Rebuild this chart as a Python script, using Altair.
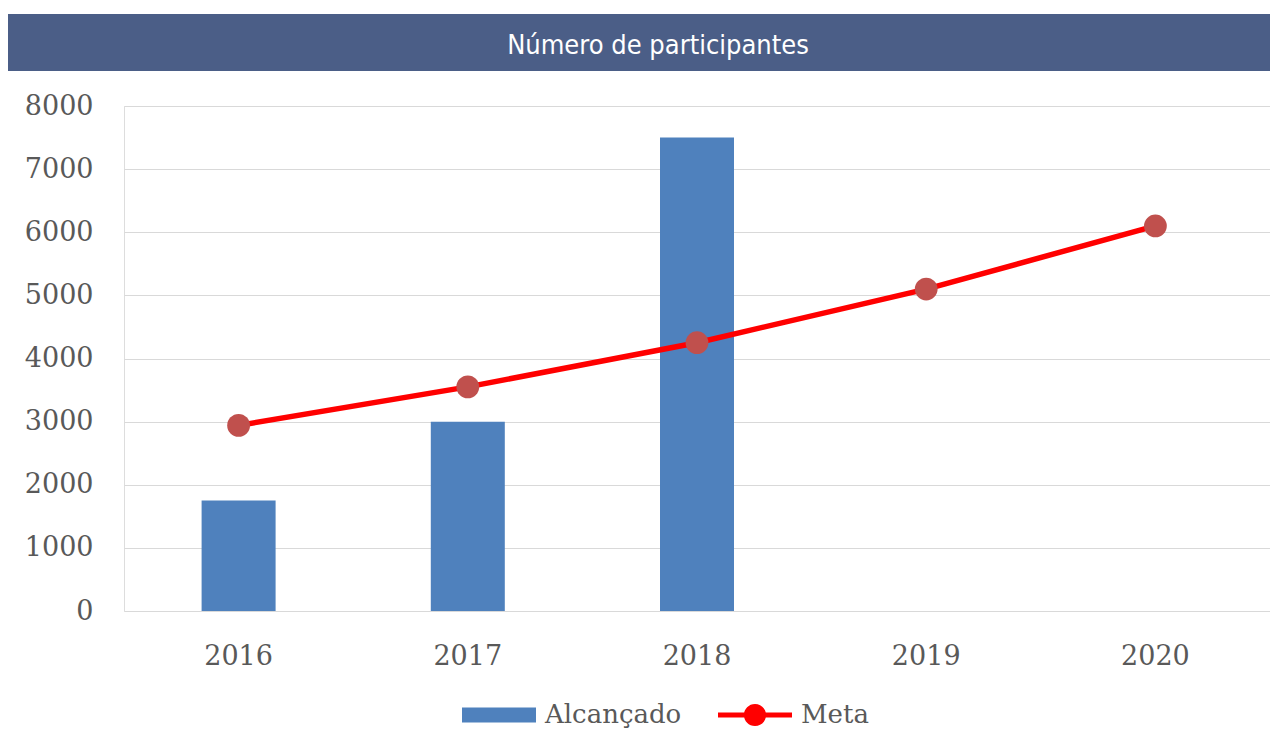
import altair as alt
import pandas as pd

# ---- data ----
years = ["2016", "2017", "2018", "2019", "2020"]
alcancado = [1750, 3000, 7500, None, None]
meta = [2940, 3550, 4250, 5100, 6100]
series = ["Alcançado", "Meta"]
series_colors = ["#4f81bd", "#ff0000"]
y_ticks = [0, 1000, 2000, 3000, 4000, 5000, 6000, 7000, 8000]
title_text = "Número de participantes"

df = pd.DataFrame({"ano": years, "alcancado": alcancado, "meta": meta})
leg_df = pd.DataFrame({"serie": series})
title_df = pd.DataFrame({"t": [title_text]})

W, H = 1146, 505
SERIF = "DejaVu Serif"
LABEL_COLOR = "#595959"

x_enc = alt.X("ano:N", sort=years,
              scale=alt.Scale(paddingInner=0, paddingOuter=0),
              axis=alt.Axis(title=None, labelAngle=0, domain=False, ticks=False,
                            labelFont=SERIF, labelFontSize=27, labelColor=LABEL_COLOR,
                            labelPadding=32, grid=False))
y_scale = alt.Scale(domain=[0, 8000], nice=False)

base = alt.Chart(df)

bars = base.mark_bar(color="#4f81bd", size=74).encode(
    x=x_enc,
    y=alt.Y("alcancado:Q", scale=y_scale,
            axis=alt.Axis(title=None, values=y_ticks, format="d", domain=False, ticks=False,
                          labelFont=SERIF, labelFontSize=27, labelColor=LABEL_COLOR,
                          labelPadding=31, gridColor="#d9d9d9", gridWidth=1.2)),
)

line = base.mark_line(color="#ff0000", strokeWidth=5.5).encode(
    x=alt.X("ano:N", sort=years),
    y=alt.Y("meta:Q", scale=y_scale),
)

points = base.mark_circle(color="#c0504d", size=520, opacity=1).encode(
    x=alt.X("ano:N", sort=years),
    y=alt.Y("meta:Q", scale=y_scale),
)

banner = alt.Chart(title_df).mark_rect(color="#4b5e87").encode(
    x=alt.value(-116), x2=alt.value(W), y=alt.value(-92), y2=alt.value(-35)
)

title = alt.Chart(title_df).mark_text(
    font="Liberation Sans Narrow, DejaVu Sans Condensed, sans-serif",
    fontSize=27, color="white", align="center", baseline="alphabetic"
).encode(x=alt.value(534), y=alt.value(-52), text="t:N")

rect_path = "M-1,-0.2H1V0.2H-1Z"
meta_path = ("M-1,-0.07H-0.25V0.07H-1Z M0.25,-0.07H1V0.07H0.25Z "
             "M-0.3,0A0.3,0.3 0 1,1 0.3,0A0.3,0.3 0 1,1 -0.3,0Z")

legend_layer = alt.Chart(leg_df).mark_point(filled=True, opacity=1).encode(
    x=alt.value(-3000), y=alt.value(-3000),
    color=alt.Color("serie:N",
                    scale=alt.Scale(domain=series, range=series_colors),
                    legend=alt.Legend(title=None, orient="none", legendX=338, legendY=572,
                                      direction="horizontal", symbolSize=74 * 74,
                                      symbolOpacity=1, symbolStrokeWidth=0,
                                      labelFont=SERIF, labelFontSize=26,
                                      labelColor=LABEL_COLOR, labelOffset=9,
                                      columnPadding=36, padding=0)),
    shape=alt.Shape("serie:N",
                    scale=alt.Scale(domain=series, range=[rect_path, meta_path])),
)

chart = alt.layer(bars, line, points, banner, title, legend_layer).properties(
    width=W, height=H,
    autosize=alt.AutoSizeParams(type="none"),
    padding={"left": 116, "top": 98, "right": 0, "bottom": 119},
).configure_view(stroke=None).configure(background="white")

chart.save("out.html", embed_options={"renderer": "svg", "actions": False})
